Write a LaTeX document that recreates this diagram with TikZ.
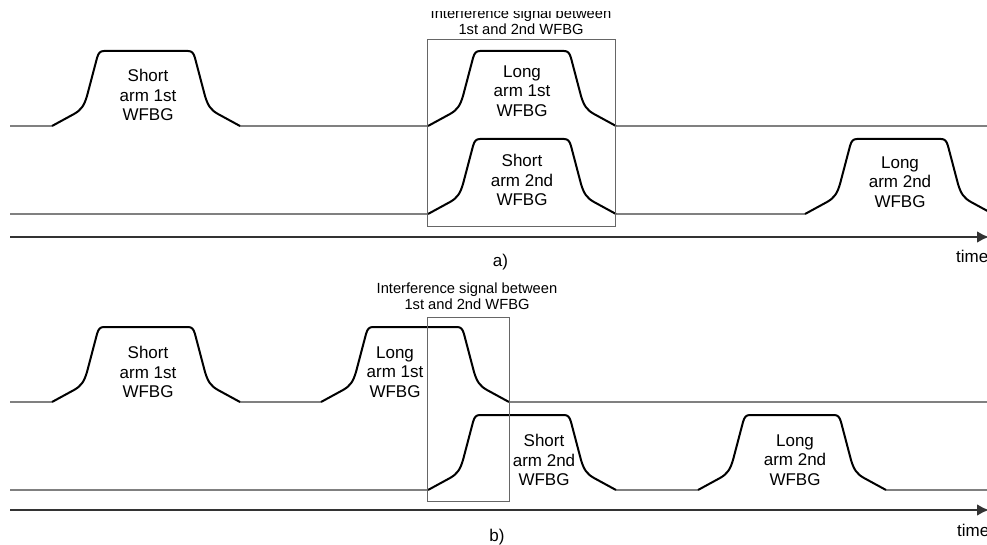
\documentclass[tikz,border=0pt]{standalone}
\usepackage{fontspec}
\setmainfont{Liberation Sans}
\usetikzlibrary{arrows.meta}

\begin{document}
\begin{tikzpicture}[x=1pt, y=1pt, >={Latex[length=12pt, width=12pt]},
    nen/.style={black!50, line width=1.2pt},
    xung/.style={black, line width=2pt, line join=round},
    khung/.style={black!60, line width=1pt},
    truc/.style={black!80, line width=2.5pt, ->},
    nhan/.style={align=center, inner sep=0pt, font=\fontsize{17}{19.7}\selectfont},
    ghichu/.style={align=center, anchor=south, inner sep=0pt, font=\fontsize{14.7}{16.3}\selectfont},
    chu/.style={inner sep=0pt, font=\fontsize{17}{19}\selectfont}]
    \useasboundingbox (0,0) rectangle (987,544);

    % Đường nền hình a
    \draw[nen] (10,418) -- (52,418) (239,418) -- (428,418) (615,418) -- (987,418);
    \draw[nen] (10,330) -- (428,330) (615,330) -- (805,330);
    % Đường nền hình b
    \draw[nen] (10,142) -- (52,142) (239,142) -- (321,142) (509,142) -- (987,142);
    \draw[nen] (10,54) -- (428,54) (616,54) -- (698,54) (886,54) -- (987,54);

    % Các xung
    \foreach \x/\y in {52/418, 428/418, 428/330, 805/330, 52/142, 321/142, 428/54, 698/54}
        \draw[xung, shift={(\x,\y)}] (0,0) -- (22,12) .. controls (29,16) and (32,20) .. (35,30)
            -- (45,68) .. controls (46.5,73) and (48,75) .. (52,75) -- (136,75)
            .. controls (140,75) and (141.5,73) .. (143,68) -- (153,30)
            .. controls (156,20) and (159,16) .. (166,12) -- (188,0);

    % Nhãn xung
    \node[nhan] (s1a) at (148,449) {Short\\arm 1st\\WFBG};
    \node[nhan] (l1a) at (522,453) {Long\\arm 1st\\WFBG};
    \node[nhan] (s2a) at (522,364) {Short\\arm 2nd\\WFBG};
    \node[nhan] (l2a) at (900,362) {Long\\arm 2nd\\WFBG};
    \node[nhan] (s1b) at (148,172) {Short\\arm 1st\\WFBG};
    \node[nhan] (l1b) at (395,172) {Long\\arm 1st\\WFBG};
    \node[nhan] (s2b) at (544,84) {Short\\arm 2nd\\WFBG};
    \node[nhan] (l2b) at (795,84) {Long\\arm 2nd\\WFBG};

    % Khung giao thoa
    \draw[khung] (427,317) rectangle (615,504);
    \begin{scope}
        \clip (0,0) rectangle (987,532);
        \node[ghichu] (gca) at (521,509) {Interference signal between\\1st and 2nd WFBG};
    \end{scope}
    \draw[khung] (427,43) rectangle (509,227);
    \node[ghichu] (gcb) at (467,234) {Interference signal between\\1st and 2nd WFBG};

    % Trục thời gian
    \coordinate (ta0) at (10,307);
    \coordinate (ta1) at (989,307);
    \coordinate (tb0) at (10,34);
    \coordinate (tb1) at (989,34);
    \draw[truc] (ta0) -- (ta1);
    \draw[truc] (tb0) -- (tb1);
    \node[chu, anchor=base west] (tga) at (956,281) {time};
    \node[chu, anchor=base west] (tgb) at (957,7.5) {time};
    \node[chu] (ca) at (500.5,282) {a)};
    \node[chu] (cb) at (497,7) {b)};
\end{tikzpicture}
\end{document}
